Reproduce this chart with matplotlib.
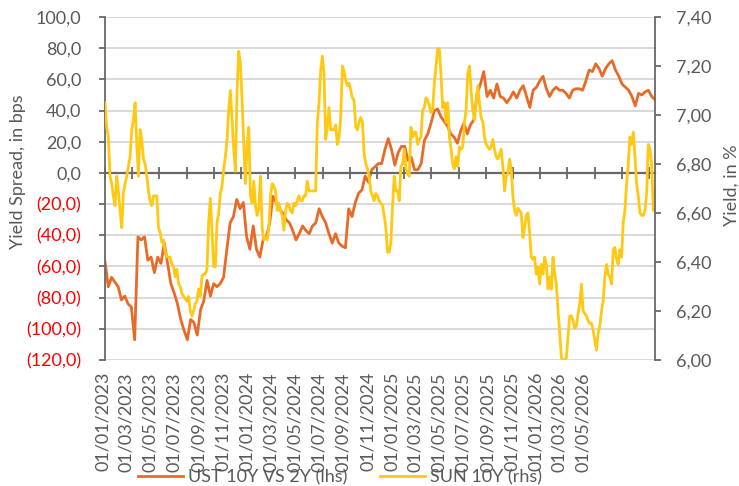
import numpy as np
import pandas as pd
import matplotlib
matplotlib.use("Agg")
import matplotlib.pyplot as plt
import matplotlib.dates as mdates
import matplotlib.transforms as mtransforms

plt.rcParams['font.family'] = ['Lato', 'DejaVu Sans']

spread_bps = [
    -57, -73, -67, -70, -73, -81.5, -79, -84, -86, -107,
    -41, -43, -41, -56, -54, -64, -54, -58, -45, -58, -71, -77, -84, -94, -101,
    -107, -94, -96, -104, -88, -82, -69, -79, -71, -73, -71, -67, -49, -32, -28,
    -17, -23, -19,
    -41, -49, -34, -49, -54, -43, -41, -32, -15, -19, -23, -26, -30, -32, -37,
    -43, -39, -34, -37, -39, -34, -32, -23, -28, -32, -39, -45, -39, -45, -47,
    -48, -23, -28, -19, -13, -11, -2, -6, 2, 4, 6,
    6, 15, 22, 15, 5, 13, 17, 17, 8, 10, 2, 2, 6, 21, 25, 32, 40, 41, 36, 33,
    30, 25, 23, 19, 27, 32, 25, 31, 34, 51, 57, 65, 49, 53, 48, 57, 49, 48, 45,
    48, 52, 48,
    53, 56, 49, 42, 53, 55, 59, 62, 54, 49, 53, 55, 53, 53, 51, 48, 53, 54, 54,
    53, 59, 66, 65, 70, 67, 62, 67, 70, 72, 66, 62, 57, 55, 53, 49, 43, 51, 50,
    52, 53, 49, 47,
]

# SUN 10Y yield, % (rhs)
sun10y = [
    7.05, 6.95, 6.91, 6.75, 6.72, 6.67, 6.63, 6.75, 6.69, 6.61, 6.54, 6.68, 6.72,
    6.75, 6.79, 6.83, 6.94, 6.98, 7.05, 6.88, 6.75, 6.94, 6.90, 6.82, 6.80, 6.75,
    6.69, 6.65, 6.63, 6.67, 6.67, 6.67, 6.54, 6.52, 6.48, 6.49, 6.44, 6.42, 6.42,
    6.42, 6.39, 6.38, 6.34, 6.37, 6.31, 6.30, 6.27, 6.26, 6.25, 6.24, 6.26, 6.20,
    6.18, 6.20, 6.23, 6.24, 6.29, 6.26, 6.34, 6.35, 6.35, 6.37, 6.56, 6.66, 6.53,
    6.38, 6.38, 6.56, 6.60, 6.68, 6.71, 6.78, 6.83, 6.90, 7.02, 7.10, 6.98, 6.86,
    6.77, 7.10, 7.26, 7.21, 7.06, 6.88,
    6.72, 6.88, 6.95, 6.67, 6.64, 6.73, 6.63, 6.59, 6.62, 6.75, 6.54, 6.49, 6.50,
    6.49, 6.54, 6.67, 6.72, 6.71, 6.69, 6.61, 6.64, 6.61, 6.59, 6.53, 6.61, 6.64,
    6.63, 6.61, 6.60, 6.64, 6.63, 6.65, 6.67, 6.65, 6.65, 6.67, 6.67, 6.73, 6.69,
    6.69, 6.69, 6.69, 6.69, 6.97, 7.05, 7.18, 7.24, 7.17, 6.90, 6.95, 7.03, 6.94,
    6.94, 6.94, 6.96, 6.88, 6.91, 6.99, 7.20, 7.18, 7.14, 7.12, 7.13, 7.10, 7.07,
    7.06, 6.95, 6.94, 6.97, 6.99, 6.97, 6.84, 6.80, 6.78, 6.75, 6.69, 6.67, 6.65,
    6.68, 6.67, 6.65,
    6.64, 6.63, 6.59, 6.54, 6.44, 6.44, 6.48, 6.63, 6.75, 6.69, 6.69, 6.65, 6.79,
    6.80, 6.86, 6.78, 6.76, 6.75, 6.95, 6.91, 6.93, 6.93, 6.88, 6.90, 6.91, 7.02,
    7.03, 7.07, 7.06, 7.04, 7.01, 7.02, 7.13, 7.20, 7.27, 7.27, 7.16, 7.03, 7.05,
    6.97, 7.05, 6.91, 6.86, 6.80, 6.78, 6.83, 6.79, 6.87, 6.86, 6.87, 6.97, 7.02,
    7.17, 7.20, 7.10, 7.02, 6.98, 7.05, 7.12, 7.05, 6.99, 6.97, 6.91, 6.88, 6.87,
    6.86, 6.87, 6.90, 6.86, 6.83, 6.82, 6.84, 6.86, 6.79, 6.69, 6.75, 6.76, 6.82,
    6.78, 6.67, 6.61, 6.59,
    6.62, 6.61, 6.60, 6.50, 6.54, 6.59, 6.60, 6.52, 6.42, 6.41, 6.42, 6.35, 6.38,
    6.31, 6.39, 6.35, 6.42, 6.39, 6.29, 6.34, 6.29, 6.42, 6.35, 6.31, 6.20, 6.11,
    6.01, 6.00, 6.00, 6.01, 6.10, 6.18, 6.18, 6.16, 6.13, 6.14, 6.19, 6.23, 6.31,
    6.20, 6.19, 6.18, 6.16, 6.15, 6.15, 6.12, 6.08, 6.04, 6.11, 6.14, 6.20, 6.24,
    6.34, 6.39, 6.35, 6.34, 6.31, 6.45, 6.46, 6.41, 6.39, 6.45, 6.42, 6.56, 6.61,
    6.72, 6.80, 6.91, 6.88, 6.93, 6.83, 6.72, 6.67, 6.60, 6.59, 6.59, 6.61, 6.68,
    6.88, 6.86, 6.80, 6.61, 6.69,
]

start_date = '2023-01-06'
end_date = '2026-10-30'
label_dates = pd.date_range('2023-01-01', '2026-05-01', freq='2MS')

ORANGE = '#E96A26'
YELLOW = '#FFC812'
GRAY = '#595959'
AXIS = '#686868'
GRID = '#D9D9D9'

x0 = mdates.date2num(pd.Timestamp(start_date))
x1 = mdates.date2num(pd.Timestamp(end_date))
spread_x = mdates.date2num(pd.date_range(start_date, end_date, periods=len(spread_bps)))
sun_x = mdates.date2num(pd.date_range(start_date, end_date, periods=len(sun10y)))

fig = plt.figure(figsize=(7.39, 4.86), dpi=100)
ax = fig.add_axes([105 / 739, 1 - 360 / 486, 550 / 739, 343 / 486])
ax2 = ax.twinx()

line1, = ax.plot(spread_x, spread_bps, color=ORANGE, lw=2.0, label='UST 10Y VS 2Y (lhs)')
line2, = ax2.plot(sun_x, sun10y, color=YELLOW, lw=2.0, label='SUN 10Y (rhs)')

ax.set_xlim(x0, x1)
ax.set_ylim(-120, 100)
ax2.set_ylim(6.0, 7.4)

# left axis: bps, negatives in red brackets
left_ticks = np.arange(-120, 101, 20)
ax.set_yticks(left_ticks)
left_labels = []
for v in left_ticks:
    if v < 0:
        left_labels.append(f"({abs(v):.1f})".replace('.', ','))
    else:
        left_labels.append(f"{v:.1f}".replace('.', ','))
ax.set_yticklabels(left_labels)
for lab, v in zip(ax.get_yticklabels(), left_ticks):
    lab.set_color('#FF0000' if v < 0 else GRAY)

right_ticks = np.arange(6.0, 7.41, 0.2)
ax2.set_yticks(right_ticks)
ax2.set_yticklabels([f"{v:.2f}".replace('.', ',') for v in right_ticks])

ax.yaxis.grid(True, color=GRID, lw=1.4)
ax.set_axisbelow(True)

for s in ['top', 'right']:
    ax.spines[s].set_visible(False)
for s in ['top', 'left', 'bottom']:
    ax2.spines[s].set_visible(False)
ax.spines['left'].set_color(AXIS)
ax.spines['left'].set_linewidth(1.3)
ax2.spines['right'].set_color(AXIS)
ax2.spines['right'].set_linewidth(1.3)
ax.spines['bottom'].set_position(('data', 0))
ax.spines['bottom'].set_color(AXIS)
ax.spines['bottom'].set_linewidth(1.6)

# category-style tick marks across the zero line
ax.set_xticks(np.linspace(x0, x0 + 0.989 * (x1 - x0), 21))
ax.tick_params(axis='x', direction='inout', length=9, width=1.3, color=AXIS,
               labelbottom=False)
ax.tick_params(axis='y', direction='out', length=4, width=1.3, color=AXIS,
               pad=13, labelsize=13)
ax2.tick_params(axis='y', direction='out', length=4, width=1.3, color=AXIS,
                pad=11, labelsize=13, labelcolor=GRAY)

# date labels sit at the bottom of the plot area
trans = mtransforms.blended_transform_factory(ax.transData, ax.transAxes)
for d in label_dates:
    ax.text(mdates.date2num(d), -0.035, d.strftime('%d/%m/%Y'), rotation=90,
            ha='center', va='top', transform=trans, fontsize=13, color=GRAY,
            clip_on=False)

fig.text(18 / 739, 1 - 172 / 486, 'Yield Spread, in bps', rotation=90,
         ha='center', va='center', fontsize=13, color=GRAY)
fig.text(732 / 739, 1 - 185 / 486, 'Yield, in %', rotation=90,
         ha='center', va='center', fontsize=13, color=GRAY)

fig.legend(handles=[line1, line2], loc='center', ncol=2, frameon=False,
           bbox_to_anchor=(340 / 739, 1 - 477 / 486), fontsize=13,
           labelcolor=GRAY, handlelength=2.5, handletextpad=0.3,
           columnspacing=1.8)

fig.savefig('out.png', dpi=100)
